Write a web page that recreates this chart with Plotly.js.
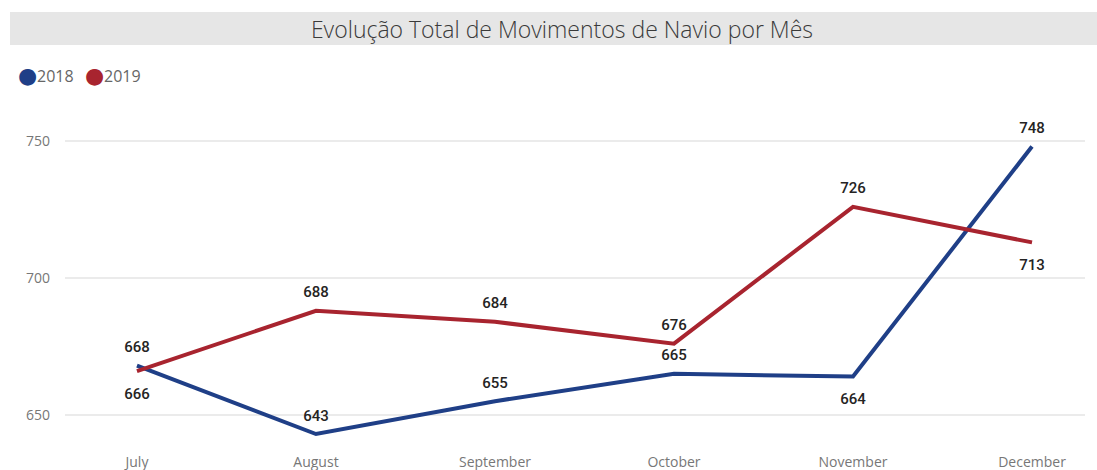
<!DOCTYPE html>
<html>
<head>
<meta charset="utf-8">
<script src="https://cdn.plot.ly/plotly-3.0.1.min.js"></script>
<style>html,body{margin:0;padding:0;background:#fff;}#chart{width:1097px;height:470px;}</style>
</head>
<body>
<div id="chart"></div>
<script>
var months = ["July", "August", "September", "October", "November", "December"];
var seriesNames = ["2018", "2019"];
var values2018 = [668, 643, 655, 665, 664, 748];
var values2019 = [666, 688, 684, 676, 726, 713];
var yTicks = [650, 700, 750];

var pos2018 = ["top center", "top center", "top center", "top center", "bottom center", "top center"];
var pos2019 = ["bottom center", "top center", "top center", "top center", "top center", "bottom center"];

var blue = "#1F3F87";
var red = "#A8242F";
var labelFont = {family: "Roboto, sans-serif", size: 15, color: "#252423", weight: 500};

function lineTrace(name, vals, color, pos) {
  return {
    x: months, y: vals, name: name, type: "scatter", mode: "lines+markers+text",
    line: {color: color, width: 4},
    marker: {size: pos.map(function (p) { return p.indexOf("bottom") === 0 ? 25 : 14; }), color: color, opacity: 0},
    text: vals.map(String), textposition: pos, textfont: labelFont,
    showlegend: false, hoverinfo: "x+y+name", cliponaxis: false
  };
}

var data = [
  lineTrace(seriesNames[0], values2018, blue, pos2018),
  lineTrace(seriesNames[1], values2019, red, pos2019)
];

var L = 65, R = 1085, T = 100, B = 445;
var pw = R - L, ph = B - T;
function px(x) { return (x - L) / pw; }
function py(y) { return (B - y) / ph; }

function legendDot(x, color) {
  return {xref: "paper", yref: "paper", x: px(x), y: py(75.5), xanchor: "center", yanchor: "middle",
    text: "●", showarrow: false, font: {size: 22, color: color, family: "DejaVu Sans"}};
}
function legendText(x, label) {
  return {xref: "paper", yref: "paper", x: px(x), y: py(76), xanchor: "left", yanchor: "middle",
    text: label, showarrow: false, font: {size: 16, color: "#666"}};
}

var layout = {
  width: 1097, height: 470,
  margin: {l: L, r: 1097 - R, t: T, b: 470 - B, pad: 0},
  paper_bgcolor: "#fff", plot_bgcolor: "#fff",
  font: {family: "'Open Sans', 'Noto Sans', sans-serif", color: "#777"},
  showlegend: false,
  title: {text: "Evolução Total de Movimentos de Navio por Mês",
    font: {family: "'Open Sans', sans-serif", size: 23, color: "#3a3a3a", weight: 300},
    x: 562 / 1097, xanchor: "center", xref: "container",
    y: 1 - 30 / 470, yanchor: "middle", yref: "container"},
  shapes: [{type: "rect", xref: "paper", yref: "paper", layer: "below",
    x0: px(10), x1: px(1097), y0: py(45), y1: py(12),
    fillcolor: "#E6E6E6", line: {width: 0}}],
  annotations: [
    legendDot(27, blue), legendText(35, seriesNames[0]),
    legendDot(94, red), legendText(102, seriesNames[1])
  ],
  xaxis: {type: "category", range: [-0.402, 5.296], showgrid: false, zeroline: false,
    showline: false, ticks: "", tickfont: {size: 14, color: "#777"}, ticklabelstandoff: 7, fixedrange: true},
  yaxis: {range: [639, 765], tickvals: yTicks, showgrid: true, gridcolor: "#EBEBEB", gridwidth: 2,
    zeroline: false, showline: false, ticks: "", tickfont: {size: 14, color: "#777"},
    ticklabelstandoff: 14, fixedrange: true}
};

Plotly.newPlot("chart", data, layout, {displayModeBar: false, staticPlot: true});
</script>
</body>
</html>
